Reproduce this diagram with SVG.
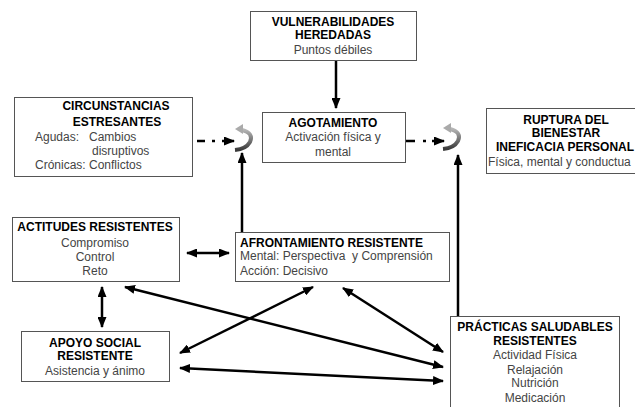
<svg xmlns="http://www.w3.org/2000/svg" width="635" height="407" viewBox="0 0 635 407">
<style>
.box{fill:#fff;stroke:#555;stroke-width:1}
.t{font-family:"Liberation Sans",Arial,sans-serif;font-size:12px;fill:#444}
.b{font-family:"Liberation Sans",Arial,sans-serif;font-size:12px;font-weight:bold;fill:#000}
.c{text-anchor:middle}
.ln{stroke:#000;stroke-width:2.5;fill:none}
.ar{stroke:#000;stroke-width:2.5;fill:none;marker-end:url(#ah)}
.dar{stroke:#000;stroke-width:2.5;fill:none;marker-start:url(#ah);marker-end:url(#ah)}
</style>
<defs>
<marker id="ah" markerUnits="userSpaceOnUse" markerWidth="11" markerHeight="9" refX="10" refY="4.5" orient="auto-start-reverse">
<path d="M0,0 L11,4.5 L0,9 z" fill="#000"/>
</marker>
<linearGradient id="cg" x1="0" y1="0" x2="0" y2="1">
<stop offset="0" stop-color="#b5b5b5"/>
<stop offset="1" stop-color="#3a3a3a"/>
</linearGradient>
<g id="curl">
<path d="M242 130 Q254 133 250 142 Q246 149 235 150" stroke="url(#cg)" stroke-width="4" fill="none"/>
<path d="M235 129 L243 124 L243 134 z" fill="#aaa"/>
</g>
</defs>
<rect width="635" height="407" fill="#fff"/>
<g id="connectors">
<line class="ar" x1="336" y1="60" x2="336" y2="108"/>
<line class="ar" x1="242" y1="232" x2="242" y2="153"/>
<line class="ar" x1="458" y1="316" x2="458" y2="155"/>
<line class="ln" x1="197" y1="141" x2="205" y2="141"/>
<line class="ln" x1="212" y1="141" x2="215" y2="141"/>
<line class="ar" x1="222" y1="141" x2="234" y2="141"/>
<line class="ln" x1="406" y1="141" x2="415" y2="141"/>
<line class="ln" x1="423" y1="141" x2="426" y2="141"/>
<line class="ar" x1="432" y1="141" x2="444" y2="141"/>
<line class="dar" x1="187" y1="253" x2="229" y2="253"/>
<line class="dar" x1="102" y1="287" x2="102" y2="327"/>
<line class="dar" x1="125" y1="287" x2="443" y2="367"/>
<line class="dar" x1="313" y1="287" x2="180" y2="353"/>
<line class="dar" x1="343" y1="288" x2="443" y2="352"/>
<line class="dar" x1="180" y1="368" x2="443" y2="381"/>
<use href="#curl"/>
<use href="#curl" transform="translate(208,-1)"/>
</g>
<g id="vulnerabilidades">
<rect class="box" x="250.5" y="11.5" width="166" height="49"/>
<text class="b c" x="333" y="26">VULNERABILIDADES</text>
<text class="b c" x="333" y="39">HEREDADAS</text>
<text class="t c" x="333" y="54">Puntos débiles</text>
</g>
<g id="circunstancias">
<rect class="box" x="14.5" y="97.5" width="178" height="79"/>
<text class="b c" x="116" y="110">CIRCUNSTANCIAS</text>
<text class="b c" x="117" y="126">ESTRESANTES</text>
<text class="t" x="35" y="141">Agudas:</text>
<text class="t" x="89" y="141">Cambios</text>
<text class="t" x="92" y="155">disruptivos</text>
<text class="t" x="35" y="169">Crónicas: Conflictos</text>
</g>
<g id="agotamiento">
<rect class="box" x="262.5" y="112.5" width="143" height="50"/>
<text class="b c" x="333" y="127">AGOTAMIENTO</text>
<text class="t c" x="333" y="141">Activación física y</text>
<text class="t c" x="333" y="156">mental</text>
</g>
<g id="ruptura">
<rect class="box" x="486.5" y="108.5" width="160" height="65"/>
<text class="b c" x="566" y="124">RUPTURA DEL</text>
<text class="b c" x="566" y="137">BIENESTAR</text>
<text class="b c" x="565" y="151">INEFICACIA PERSONAL</text>
<text class="t" x="488" y="166">Física, mental y conductua</text>
</g>
<g id="actitudes">
<rect class="box" x="12.5" y="217.5" width="167" height="64"/>
<text class="b c" x="95" y="231">ACTITUDES RESISTENTES</text>
<text class="t c" x="95" y="247">Compromiso</text>
<text class="t c" x="95" y="261">Control</text>
<text class="t c" x="95" y="275">Reto</text>
</g>
<g id="afrontamiento">
<rect class="box" x="235.5" y="232.5" width="214" height="49"/>
<text class="b" x="240" y="247">AFRONTAMIENTO RESISTENTE</text>
<text class="t" x="240" y="260" xml:space="preserve">Mental: Perspectiva  y Comprensión</text>
<text class="t" x="240" y="275">Acción: Decisivo</text>
</g>
<g id="apoyo">
<rect class="box" x="21.5" y="331.5" width="148" height="50"/>
<text class="b c" x="95" y="347">APOYO SOCIAL</text>
<text class="b c" x="95" y="360">RESISTENTE</text>
<text class="t c" x="95" y="375">Asistencia y ánimo</text>
</g>
<g id="practicas">
<rect class="box" x="450.5" y="316.5" width="169" height="100"/>
<text class="b c" x="535" y="331">PRÁCTICAS SALUDABLES</text>
<text class="b c" x="535" y="345">RESISTENTES</text>
<text class="t c" x="535" y="359">Actividad Física</text>
<text class="t c" x="535" y="374">Relajación</text>
<text class="t c" x="535" y="387">Nutrición</text>
<text class="t c" x="535" y="402">Medicación</text>
</g>
</svg>
